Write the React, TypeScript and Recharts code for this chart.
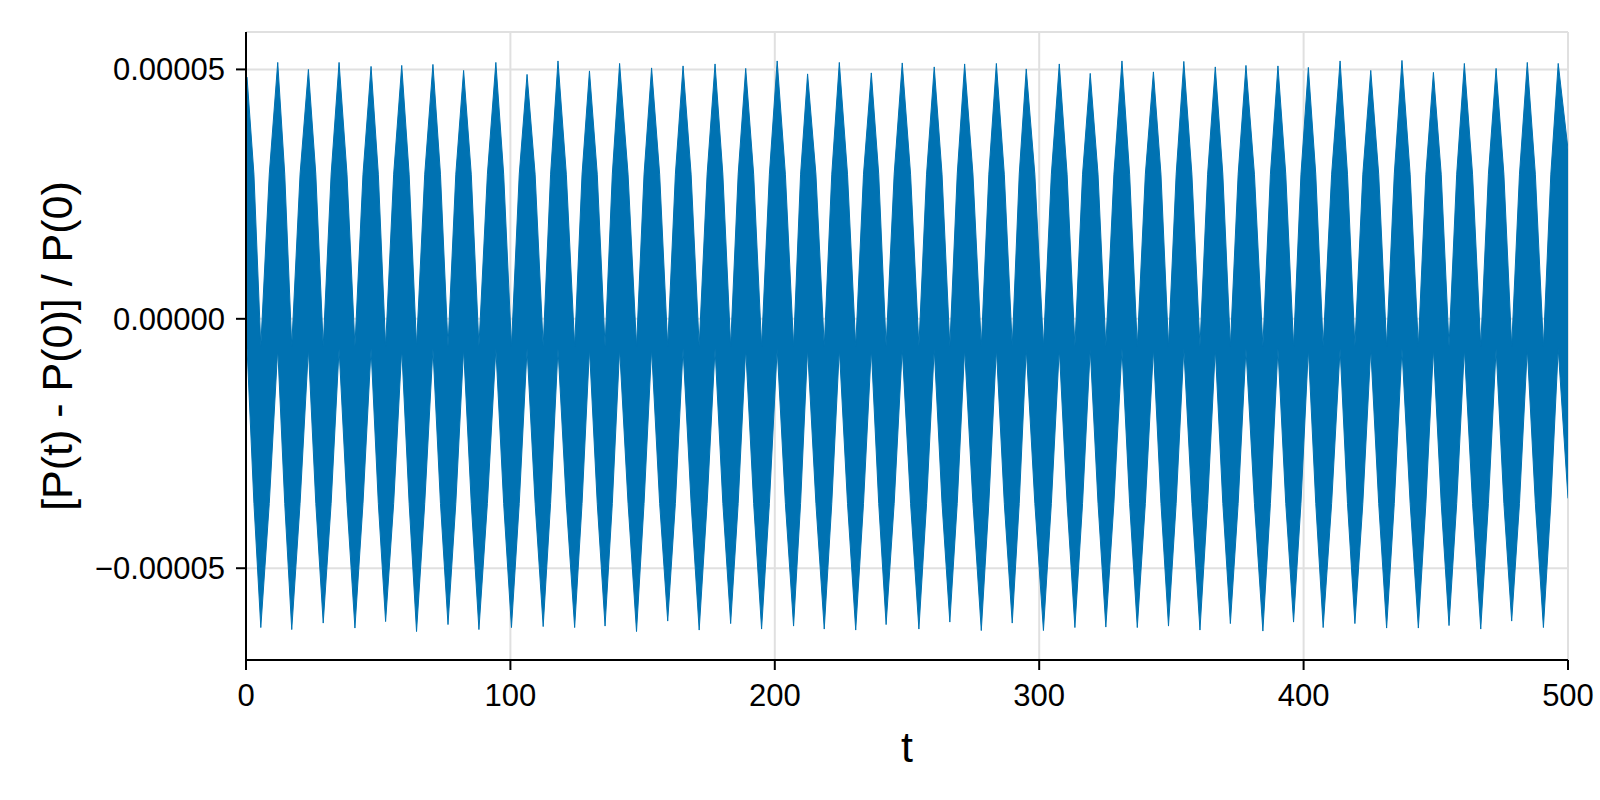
import { AreaChart, Area, XAxis, YAxis, CartesianGrid, Label } from "recharts";

const FONT = '"Liberation Sans", Arial, Helvetica, sans-serif';
const BLUE = "#0072b2";

// tops of the upward spikes: time and value
const peakT = [
  0.4, 12.0, 23.6, 35.2, 47.3, 58.9, 70.7, 82.3, 94.5, 106.3, 118.0, 129.9, 141.3, 153.4, 165.3,
  177.4, 189.0, 200.9, 212.4, 224.4, 236.5, 248.2, 260.3, 271.8, 283.8, 295.1, 307.6, 319.3,
  331.3, 343.2, 354.7, 366.6, 378.2, 390.3, 401.8, 413.8, 425.4, 437.2, 449.1, 460.8, 472.8,
  484.6, 496.3,
];
const peakV = [
  4.84e-5, 5.14e-5, 5.0e-5, 5.14e-5, 5.06e-5, 5.08e-5, 5.1e-5, 4.98e-5, 5.14e-5, 4.9e-5, 5.17e-5,
  4.97e-5, 5.12e-5, 5.03e-5, 5.07e-5, 5.11e-5, 5.02e-5, 5.17e-5, 4.91e-5, 5.14e-5, 4.93e-5,
  5.13e-5, 5.05e-5, 5.11e-5, 5.12e-5, 5.01e-5, 5.11e-5, 4.92e-5, 5.17e-5, 4.95e-5, 5.16e-5,
  5.05e-5, 5.08e-5, 5.07e-5, 5.04e-5, 5.17e-5, 4.98e-5, 5.18e-5, 4.94e-5, 5.12e-5, 5.02e-5,
  5.14e-5, 5.12e-5,
];

// bottoms of the downward spikes
const troughT = [
  5.6, 17.3, 29.2, 41.2, 52.8, 64.5, 76.4, 88.1, 100.4, 112.4, 124.3, 135.8, 147.7, 159.5, 171.4,
  183.3, 195.0, 207.1, 218.7, 230.6, 242.1, 254.5, 266.2, 278.1, 289.8, 301.6, 313.5, 325.2,
  337.1, 348.9, 360.8, 372.3, 384.6, 396.2, 407.4, 419.4, 431.4, 443.4, 455.0, 467.0, 478.7,
  490.7,
];
const troughV = [
  -6.19e-5, -6.23e-5, -6.1e-5, -6.2e-5, -6.07e-5, -6.27e-5, -6.13e-5, -6.23e-5, -6.19e-5,
  -6.17e-5, -6.19e-5, -6.16e-5, -6.27e-5, -6.06e-5, -6.24e-5, -6.11e-5, -6.22e-5, -6.16e-5,
  -6.22e-5, -6.24e-5, -6.13e-5, -6.22e-5, -6.08e-5, -6.25e-5, -6.1e-5, -6.25e-5, -6.19e-5,
  -6.18e-5, -6.19e-5, -6.16e-5, -6.24e-5, -6.11e-5, -6.26e-5, -6.08e-5, -6.19e-5, -6.11e-5,
  -6.2e-5, -6.2e-5, -6.15e-5, -6.22e-5, -6.06e-5, -6.19e-5,
];

// where the oscillation turns back between spikes
const upperValley = -0.55e-5;
const lowerCrest = -0.6e-5;
// envelope half way between a spike and the next one of the other sign
const upperShoulder = 2.9e-5;
const lowerShoulder = -3.7e-5;
// band covered by the line at the two ends
const startBand: [number, number] = [-0.5e-5, 4.8e-5];
const endBand: [number, number] = [-3.6e-5, 3.4e-5];

const xTicks = [0, 100, 200, 300, 400, 500];
const yTicks = [-5e-5, 0, 5e-5];
const yDomain: [number, number] = [-6.84e-5, 5.75e-5];

type Row = { t: number; band: [number, number] };

const extremes: Row[] = [
  ...peakT.map((t, i) => ({ t, band: [lowerCrest, peakV[i]] as [number, number] })),
  ...troughT.map((t, i) => ({ t, band: [troughV[i], upperValley] as [number, number] })),
].sort((a, b) => a.t - b.t);

const shoulders: Row[] = extremes.slice(1).map((r, i) => ({
  t: (r.t + extremes[i].t) / 2,
  band: [lowerShoulder, upperShoulder],
}));

const rows: Row[] = [{ t: 0, band: startBand }, ...extremes, ...shoulders, { t: 500, band: endBand }].sort(
  (a, b) => a.t - b.t
);

const fmtY = (v: number) => v.toFixed(5).replace("-", "\u2212");

const spine = { stroke: "#000", strokeWidth: 2 };
const tickFont = { fontSize: 31, fill: "#000", fontFamily: FONT };

function XLabel(props: any) {
  const { x, y, width } = props.viewBox;
  return (
    <text x={x + width / 2} y={y + 102} textAnchor="middle" fontSize={43} fontFamily={FONT} fill="#000">
      t
    </text>
  );
}

function YLabel(props: any) {
  const { x, y, height } = props.viewBox;
  const cx = x + 72;
  const cy = y + height / 2;
  return (
    <text
      x={cx}
      y={cy}
      transform={`rotate(-90 ${cx} ${cy})`}
      textAnchor="middle"
      fontSize={43}
      fontFamily={FONT}
      fill="#000"
    >
      [P(t) - P(0)] / P(0)
    </text>
  );
}

export default function App() {
  return (
    <div style={{ position: "absolute", left: 0, top: 0, width: 1600, height: 800, background: "#fff" }}>
      <AreaChart
        width={1600}
        height={800}
        data={rows}
        margin={{ top: 32, right: 32, bottom: 0, left: 0 }}
        style={{ fontFamily: FONT }}
      >
        <CartesianGrid stroke="#e0e0e0" strokeWidth={2} />
        <XAxis
          dataKey="t"
          type="number"
          domain={[0, 500]}
          ticks={xTicks}
          allowDataOverflow
          height={140}
          tickSize={10}
          tickMargin={14}
          axisLine={spine}
          tickLine={spine}
          tick={tickFont}
        >
          <Label content={XLabel} />
        </XAxis>
        <XAxis
          xAxisId="top"
          orientation="top"
          dataKey="t"
          type="number"
          domain={[0, 500]}
          height={0}
          tick={false}
          tickLine={false}
          axisLine={spine}
        />
        <YAxis
          type="number"
          domain={yDomain}
          ticks={yTicks}
          allowDataOverflow
          width={246}
          tickSize={10}
          tickMargin={11}
          tickFormatter={fmtY}
          axisLine={spine}
          tickLine={spine}
          tick={tickFont}
        >
          <Label content={YLabel} />
        </YAxis>
        <YAxis
          yAxisId="right"
          orientation="right"
          type="number"
          domain={yDomain}
          width={0}
          tick={false}
          tickLine={false}
          axisLine={spine}
        />
        <Area
          dataKey="band"
          type="linear"
          stroke={BLUE}
          strokeWidth={1}
          fill={BLUE}
          fillOpacity={1}
          dot={false}
          activeDot={false}
          isAnimationActive={false}
        />
      </AreaChart>
    </div>
  );
}
